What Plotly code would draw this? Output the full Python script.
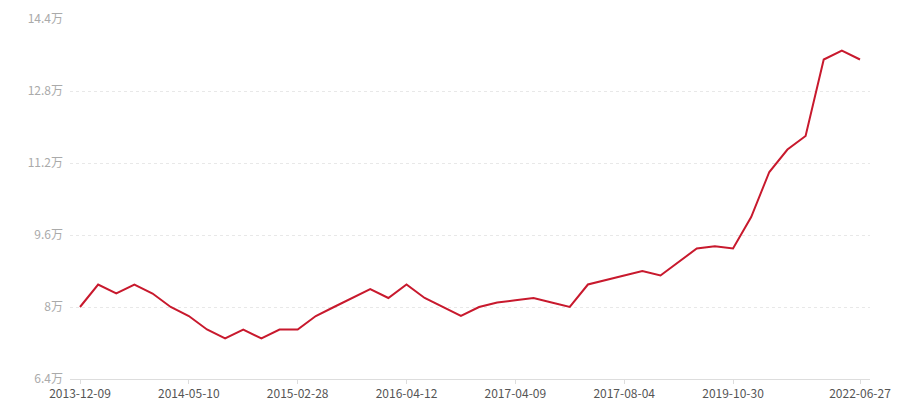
import plotly.graph_objects as go

values = [8.0, 8.5, 8.3, 8.5, 8.3, 8.0, 7.8, 7.5, 7.3, 7.5, 7.3, 7.5,
          7.5, 7.8, 8.0, 8.2, 8.4, 8.2, 8.5, 8.2, 8.0, 7.8, 8.0, 8.1,
          8.15, 8.2, 8.1, 8.0, 8.5, 8.6, 8.7, 8.8, 8.7, 9.0, 9.3, 9.35,
          9.3, 10.0, 11.0, 11.5, 11.8, 13.5, 13.7, 13.5]
idx = list(range(len(values)))

tick_pos = [0, 6, 12, 18, 24, 30, 36, 43]
tick_labels = ["2013-12-09", "2014-05-10", "2015-02-28", "2016-04-12",
               "2017-04-09", "2017-08-04", "2019-10-30", "2022-06-27"]

y_ticks = [6.4, 8.0, 9.6, 11.2, 12.8, 14.4]
y_labels = ["6.4万", "8万", "9.6万", "11.2万", "12.8万", "14.4万"]

fig = go.Figure(go.Scatter(
    x=idx, y=values, mode="lines",
    line=dict(color="#c8192d", width=2),
    hoverinfo="y"
))

fig.update_layout(
    width=900, height=400,
    margin=dict(l=70, r=30, t=19, b=21),
    paper_bgcolor="white", plot_bgcolor="white",
    font=dict(family="Noto Sans CJK SC, sans-serif", size=12, color="#999"),
    showlegend=False,
)
fig.update_xaxes(
    range=[-0.551, 43.551], tickmode="array", tickvals=tick_pos, ticktext=tick_labels,
    showgrid=False, zeroline=False, showline=True, linecolor="#dddddd", linewidth=1,
    ticks="outside", ticklen=4, tickcolor="#dddddd", tickfont=dict(color="#555", size=12),
    automargin=False,
)
fig.update_yaxes(
    range=[6.4, 14.4], tickmode="array", tickvals=y_ticks, ticktext=y_labels,
    showgrid=True, gridcolor="#e8e8e8", griddash="dot", gridwidth=1,
    zeroline=False, showline=False, ticks="", tickfont=dict(color="#aaa", size=12),
    ticklabelstandoff=6, automargin=False,
)

fig.write_html("out.html", config={"displayModeBar": False},
               post_script="document.body.style.margin='0';document.body.style.overflow='hidden';")
